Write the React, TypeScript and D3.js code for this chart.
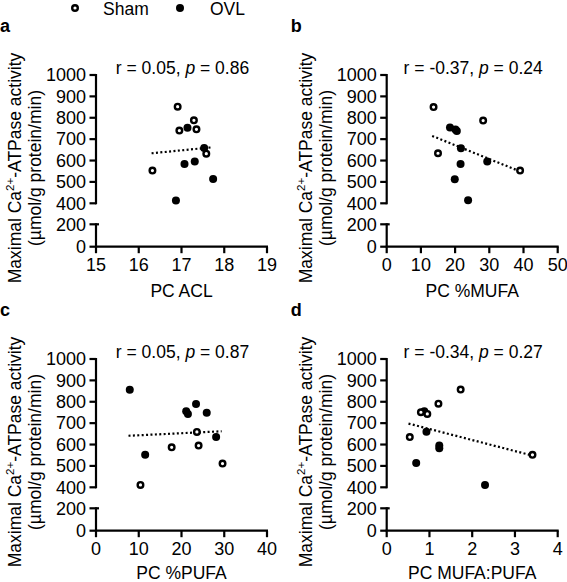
import React from "react";
import * as d3 from "d3";

const FONT = "'Liberation Sans', Arial, Helvetica, sans-serif";

// ---- data ----
const yTicksUpper = [400, 500, 600, 700, 800, 900, 1000];
const yTicksLower = [0, 200];

const xTicksA = [15, 16, 17, 18, 19];
const xTicksB = [0, 10, 20, 30, 40, 50];
const xTicksC = [0, 10, 20, 30, 40];
const xTicksD = [0, 1, 2, 3, 4];

const shamA: [number, number][] = [[16.91, 852], [16.95, 740], [17.29, 788], [17.35, 746], [17.58, 632], [16.32, 553]];
const ovlA: [number, number][] = [[17.14, 753], [17.53, 659], [17.07, 584], [17.31, 595], [17.74, 514], [16.87, 413]];
const fitA: [number, number][] = [[16.3, 634], [17.73, 662]];

const shamB: [number, number][] = [[13.7, 850], [15.0, 634], [28.2, 787], [39.0, 553]];
const ovlB: [number, number][] = [[18.5, 754], [20.1, 745], [20.5, 738], [21.7, 657], [21.6, 584], [29.4, 595], [19.9, 512], [23.8, 414]];
const fitB: [number, number][] = [[13.3, 715], [38.7, 551]];

const shamC: [number, number][] = [[10.4, 411], [17.7, 587], [23.6, 659], [24.0, 595], [29.6, 511]];
const ovlC: [number, number][] = [[7.9, 856], [11.5, 552], [21.1, 756], [21.5, 743], [23.4, 790], [25.9, 749], [28.1, 635]];
const fitC: [number, number][] = [[7.6, 641], [29.4, 662]];

const shamD: [number, number][] = [[0.54, 635], [0.8, 751], [0.95, 743], [1.21, 791], [1.73, 857], [3.41, 552]];
const ovlD: [number, number][] = [[0.69, 514], [0.88, 756], [0.93, 660], [1.23, 595], [1.23, 583], [2.3, 411]];
const fitD: [number, number][] = [[0.51, 698], [3.34, 552]];

// ---- geometry ----
const W = 171;
const UP_TOP = 0;
const UP_BOT = 128.3;
const LO_TOP = 149.3;
const LO_BOT = 171.7;

const yUpper = d3.scaleLinear().domain([400, 1000]).range([UP_BOT, UP_TOP]);
const yLower = d3.scaleLinear().domain([0, 200]).range([LO_BOT, LO_TOP]);
const yPos = (v: number) => (v >= 400 ? yUpper(v) : yLower(v));

type PanelProps = {
  ox: number;
  oy: number;
  letter: string;
  xDomain: [number, number];
  xTicks: number[];
  xLabel: string;
  r: string;
  p: string;
  sham: [number, number][];
  ovl: [number, number][];
  fit: [number, number][];
  titleDy: number;
};

function Panel({ ox, oy, letter, xDomain, xTicks, xLabel, r, p, sham, ovl, fit, titleDy }: PanelProps) {
  const x = d3.scaleLinear().domain(xDomain).range([0, W]);
  const fitLine = d3
    .line<[number, number]>()
    .x((d) => x(d[0]))
    .y((d) => yPos(d[1]));
  return (
    <g>
      <text x={ox - 96} y={oy - 43} fontFamily={FONT} fontSize={18} fontWeight="bold" fill="#000">
        {letter}
      </text>
      <g transform={`translate(${ox},${oy})`}>
        {/* y title */}
        <g transform={`translate(-75,93) rotate(-90)`} fontFamily={FONT} fontSize={17.5} textAnchor="middle" fill="#000">
          <text x={0} y={0}>
            Maximal Ca
            <tspan fontSize={11.5} dy={-7}>2+</tspan>
            <tspan dy={7}>-ATPase activity</tspan>
          </text>
          <text x={0} y={20}>(µmol/g protein/min)</text>
        </g>
        {/* axes */}
        <g stroke="#000" strokeWidth={2.2} fill="none">
          <line x1={0} y1={UP_TOP - 1} x2={0} y2={UP_BOT + 1} />
          <line x1={0} y1={LO_TOP - 1} x2={0} y2={LO_BOT} />
          {yTicksUpper.map((t) => (
            <line key={t} x1={-6.5} x2={0} y1={yUpper(t)} y2={yUpper(t)} />
          ))}
          {yTicksLower.map((t) => (
            <line key={t} x1={-6.5} x2={t === 200 ? 3 : 0} y1={yLower(t)} y2={yLower(t)} />
          ))}
          <line x1={-1} x2={W + 1} y1={LO_BOT} y2={LO_BOT} />
          {xTicks.map((t) => (
            <line key={t} x1={x(t)} x2={x(t)} y1={LO_BOT} y2={LO_BOT + 6.5} />
          ))}
        </g>
        <g fontFamily={FONT} fontSize={18} fill="#000">
          {yTicksUpper.map((t) => (
            <text key={t} x={-10} y={yUpper(t)} dy="0.35em" textAnchor="end">
              {t}
            </text>
          ))}
          {yTicksLower.map((t) => (
            <text key={t} x={-10} y={yLower(t)} dy="0.35em" textAnchor="end">
              {t}
            </text>
          ))}
          {xTicks.map((t) => (
            <text key={t} x={x(t)} y={LO_BOT + 24.5} textAnchor="middle">
              {t}
            </text>
          ))}
        </g>
        <g fontFamily={FONT} fontSize={17.5} fill="#000">
          <text x={W / 2} y={LO_BOT + 50.5 + titleDy} textAnchor="middle">
            {xLabel}
          </text>
          <text x={W / 2 + 1} y={-1} textAnchor="middle">
            {`r = ${r}, `}
            <tspan fontStyle="italic">p</tspan>
            {` = ${p}`}
          </text>
        </g>
        {/* fit */}
        <path d={fitLine(fit) || ""} stroke="#000" strokeWidth={2.2} strokeDasharray="2,2.4" fill="none" />
        {/* points */}
        {ovl.map((d, i) => (
          <circle key={"o" + i} cx={x(d[0])} cy={yPos(d[1])} r={4} fill="#000" />
        ))}
        {sham.map((d, i) => (
          <circle key={"s" + i} cx={x(d[0])} cy={yPos(d[1])} r={2.8} fill="#fff" stroke="#000" strokeWidth={2.4} />
        ))}
      </g>
    </g>
  );
}

export default function App() {
  return (
    <svg width={567} height={582} style={{ position: "absolute", left: 0, top: 0, background: "#fff" }}>
      <rect width={567} height={582} fill="#fff" />
      {/* legend */}
      <circle cx={75} cy={8} r={2.8} fill="#fff" stroke="#000" strokeWidth={2.4} />
      <text x={103} y={14.5} fontFamily={FONT} fontSize={17.5} fill="#000">Sham</text>
      <circle cx={180} cy={8} r={4} fill="#000" />
      <text x={210} y={14.5} fontFamily={FONT} fontSize={17.5} fill="#000">OVL</text>

      <Panel ox={96} oy={75} letter="a" xDomain={[15, 19]} xTicks={xTicksA} xLabel="PC ACL" r="0.05" p="0.86" sham={shamA} ovl={ovlA} fit={fitA} titleDy={0} />
      <Panel ox={386.7} oy={75} letter="b" xDomain={[0, 50]} xTicks={xTicksB} xLabel="PC %MUFA" r="-0.37" p="0.24" sham={shamB} ovl={ovlB} fit={fitB} titleDy={0} />
      <Panel ox={96} oy={359} letter="c" xDomain={[0, 40]} xTicks={xTicksC} xLabel="PC %PUFA" r="0.05" p="0.87" sham={shamC} ovl={ovlC} fit={fitC} titleDy={-2.5} />
      <Panel ox={386.7} oy={359} letter="d" xDomain={[0, 4]} xTicks={xTicksD} xLabel="PC MUFA:PUFA" r="-0.34" p="0.27" sham={shamD} ovl={ovlD} fit={fitD} titleDy={-2.5} />
    </svg>
  );
}
